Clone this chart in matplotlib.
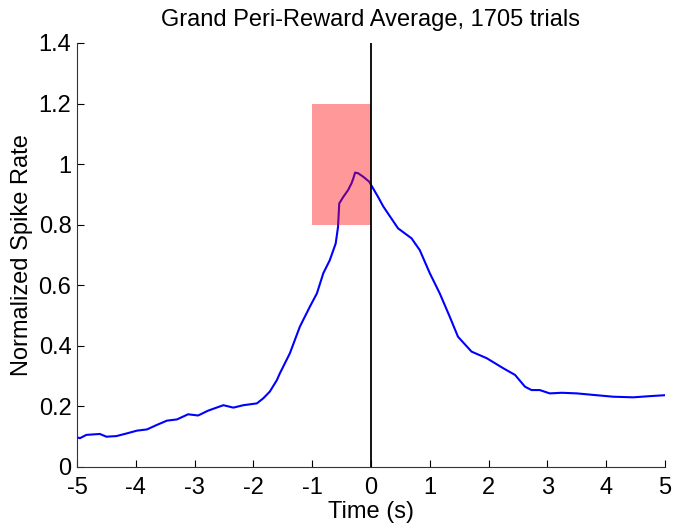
import matplotlib
matplotlib.use("Agg")
import matplotlib.pyplot as plt
from matplotlib.patches import Rectangle
from matplotlib.ticker import FuncFormatter

plt.rcParams['font.family'] = ['Liberation Sans', 'DejaVu Sans']

time_s = [-5.0, -4.95, -4.84, -4.61, -4.5, -4.33, -4.15, -3.98, -3.81, -3.64,
          -3.47, -3.30, -3.11, -2.94, -2.77, -2.51, -2.34, -2.17, -1.94, -1.83,
          -1.72, -1.60, -1.55, -1.38, -1.21, -1.04, -0.92, -0.81, -0.70, -0.60,
          -0.56, -0.54, -0.47, -0.39, -0.33, -0.30, -0.27, -0.22, -0.13, -0.03,
          0.12, 0.21, 0.46, 0.69, 0.83, 1.0, 1.17, 1.34, 1.48, 1.71,
          1.97, 2.25, 2.45, 2.62, 2.73, 2.87, 3.04, 3.25, 3.5, 3.78,
          4.12, 4.46, 4.75, 5.0]
rate = [0.098, 0.095, 0.106, 0.109, 0.100, 0.102, 0.111, 0.120, 0.124, 0.139,
        0.153, 0.157, 0.174, 0.170, 0.186, 0.204, 0.196, 0.204, 0.210, 0.227,
        0.249, 0.287, 0.309, 0.375, 0.463, 0.529, 0.573, 0.640, 0.683, 0.738,
        0.793, 0.870, 0.892, 0.914, 0.937, 0.953, 0.972, 0.970, 0.958, 0.942,
        0.892, 0.860, 0.788, 0.755, 0.716, 0.640, 0.573, 0.496, 0.430, 0.381,
        0.359, 0.326, 0.304, 0.265, 0.254, 0.254, 0.243, 0.245, 0.243, 0.238,
        0.232, 0.230, 0.234, 0.237]

window_x = [-1.0, 0.0]
window_y = [0.8, 1.2]
x_ticks = [-5, -4, -3, -2, -1, 0, 1, 2, 3, 4, 5]
y_ticks = [0, 0.2, 0.4, 0.6, 0.8, 1.0, 1.2, 1.4]

fig = plt.figure(figsize=(6.83, 5.26), dpi=100)
ax = fig.add_axes([0.1127, 0.1122, 0.8609, 0.8061])

ax.plot(time_s, rate, color='#0000ff', lw=1.5, zorder=2)
ax.add_patch(Rectangle((window_x[0], window_y[0]), window_x[1] - window_x[0],
                       window_y[1] - window_y[0], facecolor='red', alpha=0.4,
                       edgecolor='none', zorder=3))
ax.axvline(0, color='black', lw=1.3, zorder=4)

ax.set_xlim(-5, 5)
ax.set_ylim(0, 1.4)
ax.set_xticks(x_ticks)
ax.set_yticks(y_ticks)
ax.yaxis.set_major_formatter(FuncFormatter(lambda v, p: f"{v:g}"))
ax.xaxis.set_major_formatter(FuncFormatter(lambda v, p: f"{v:g}"))

for s in ['top', 'right']:
    ax.spines[s].set_visible(False)
for s in ['left', 'bottom']:
    ax.spines[s].set_linewidth(0.8)
    ax.spines[s].set_color('#333333')
ax.tick_params(direction='in', length=5, width=0.8, labelsize=17)
ax.tick_params(axis='x', pad=7)
ax.tick_params(axis='y', pad=4)

ax.set_title('Grand Peri-Reward Average, 1705 trials', fontsize=17, pad=12)
ax.set_xlabel('Time (s)', fontsize=17, labelpad=2)
ax.set_ylabel('Normalized Spike Rate', fontsize=17, labelpad=4)

fig.savefig('out.png', dpi=100)
